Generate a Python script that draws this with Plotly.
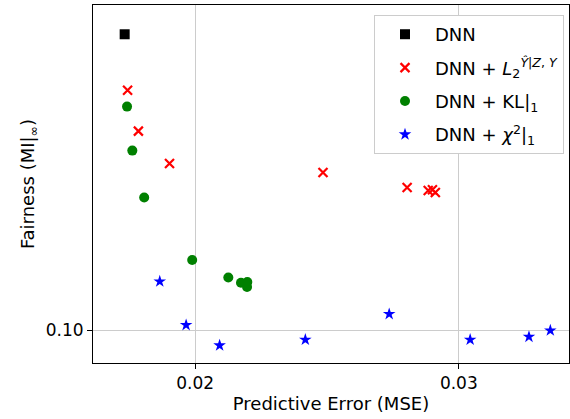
import plotly.graph_objects as go

# Data
dnn_x = [0.01733]
dnn_y = [0.740]

l2_x = [0.01744, 0.01785, 0.01903, 0.02485, 0.02804, 0.02884, 0.02900, 0.02911]
l2_y = [0.507, 0.3845, 0.309, 0.2906, 0.2627, 0.2574, 0.2586, 0.2540]

kl_x = [0.01742, 0.01762, 0.01807, 0.01989, 0.02126, 0.02174, 0.02198, 0.02197]
kl_y = [0.4539, 0.3371, 0.2455, 0.1609, 0.1430, 0.1380, 0.1387, 0.1341]

chi_x = [0.01866, 0.01966, 0.02093, 0.02418, 0.02736, 0.03043, 0.03266, 0.03347]
chi_y = [0.1392, 0.1037, 0.0904, 0.0939, 0.1117, 0.0939, 0.0958, 0.1000]

x_ticks = [0.02, 0.03]
x_tick_text = ["0.02", "0.03"]
y_ticks = [0.1]
y_tick_text = ["0.10"]

FONT = "DejaVu Sans"

fig = go.Figure()
fig.add_trace(go.Scatter(x=dnn_x, y=dnn_y, mode="markers", name="DNN", legendgroup="a",
                         marker=dict(symbol="square", size=10, color="black")))
fig.add_trace(go.Scatter(x=l2_x, y=l2_y, mode="markers", legendgroup="b",
                         name="DNN + <i>L</i><sub>2</sub><sup><i>Ŷ</i>|<i>Z</i>, <i>Y</i></sup>",
                         marker=dict(symbol="x-thin", size=9, color="red",
                                     line=dict(color="red", width=2.2))))
fig.add_trace(go.Scatter(x=kl_x, y=kl_y, mode="markers", name="DNN + KL|<sub>1</sub>",
                         legendgroup="c",
                         marker=dict(symbol="circle", size=10, color="green")))
fig.add_trace(go.Scatter(x=chi_x, y=chi_y, mode="markers", legendgroup="d",
                         name="DNN + <i>χ</i><sup>2</sup>|<sub>1</sub>",
                         marker=dict(symbol="star", size=9.5, color="blue")))

fig.update_layout(
    width=570, height=419,
    margin=dict(l=93, r=1, t=5, b=56),
    paper_bgcolor="white", plot_bgcolor="white",
    font=dict(family=FONT, size=17, color="black"),
    showlegend=True,
    legend=dict(x=0.9895, y=0.972, xanchor="right", yanchor="top",
                bgcolor="white", bordercolor="#cccccc", borderwidth=1,
                font=dict(family=FONT, size=18, color="black"),
                itemwidth=50, tracegroupgap=7),
)
fig.update_xaxes(range=[0.016129, 0.034178], tickvals=x_ticks, ticktext=x_tick_text,
                 showgrid=True, gridcolor="#cccccc", gridwidth=1,
                 showline=True, linecolor="black", linewidth=1, mirror=True,
                 ticks="outside", ticklen=5, tickcolor="black", zeroline=False,
                 title=dict(text="Predictive Error (MSE)", font=dict(family=FONT, size=18), standoff=4),
                 tickfont=dict(family=FONT, size=17))
fig.update_yaxes(type="log", range=[-1.0956, -0.04487], tickvals=y_ticks, ticktext=y_tick_text,
                 showgrid=True, gridcolor="#cccccc", gridwidth=1,
                 showline=True, linecolor="black", linewidth=1, mirror=True,
                 ticks="outside", ticklen=5, tickcolor="black", zeroline=False,
                 title=dict(text="Fairness (MI|<sub>∞</sub>)", font=dict(family=FONT, size=18), standoff=6),
                 tickfont=dict(family=FONT, size=17))

fig.write_html("out.html")
